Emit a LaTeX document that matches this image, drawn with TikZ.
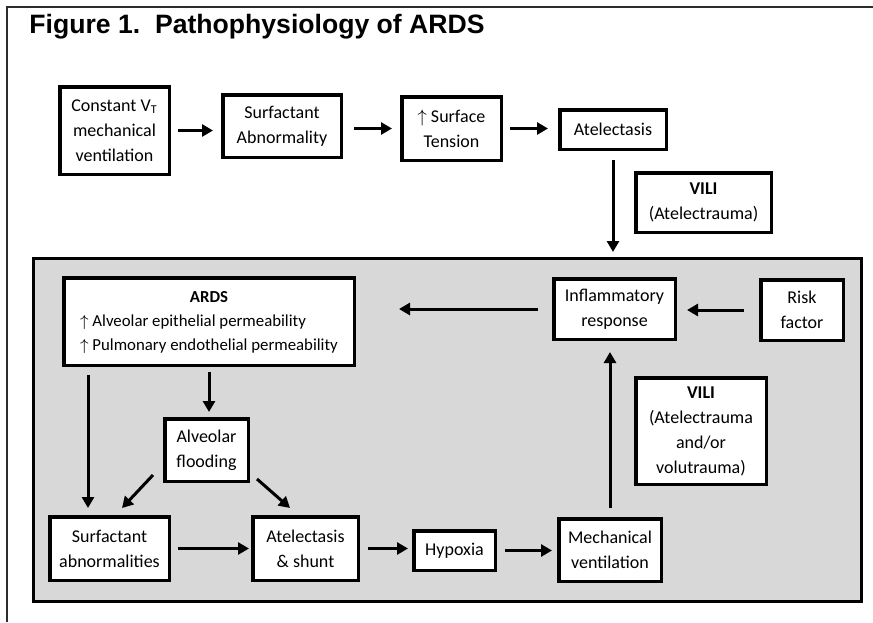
\documentclass[tikz,border=0pt]{standalone}
\usepackage{fontspec}
\setmainfont{Carlito}
\newfontfamily\titlefont{Liberation Sans}
\usetikzlibrary{arrows.meta,calc}
\definecolor{panelgray}{RGB}{216,216,216}
\definecolor{framegray}{RGB}{45,45,45}
\tikzset{
  box/.style={draw, line width=1.75pt, fill=white, align=center, inner sep=1pt,
    font={\fontsize{9pt}{12.5pt}\selectfont}},
  panel/.style={draw, line width=1.5pt, fill=panelgray, inner sep=0pt},
  conn/.style={->, line width=1.5pt, shorten <=3.5pt, shorten >=2.5pt}
}
\begin{document}
\begin{tikzpicture}[x=0.5pt, y=-0.5pt, >={Triangle[length=5.5pt,width=6pt]}]
\useasboundingbox[fill=white] (0,0) rectangle (873,622);
\draw[line width=1pt, framegray] (7,622)--(7,7)--(873,7);
\node[anchor=base west, inner sep=0pt, font={\titlefont\bfseries\fontsize{13.3pt}{15pt}\selectfont}] (title) at (29,33) {Figure 1.\ \ Pathophysiology of ARDS};

\node[panel, minimum width=414pt, minimum height=171.5pt] (cycle) at (447.5,430) {};

\node[box, minimum width=54.75pt, minimum height=43.75pt] (const) at (114.5,130.5) {Constant V\textsubscript{T}\\mechanical\\ventilation};
\node[box, minimum width=59.25pt, minimum height=31.25pt] (surf) at (282,126) {Surfactant\\Abnormality};
\node[box, minimum width=49.75pt, minimum height=31.75pt] (tens) at (451.5,128.5) {$\uparrow$ Surface\\Tension};
\node[box, minimum width=53.25pt, minimum height=19.75pt] (atel) at (613,129.5) {Atelectasis};
\node[box, minimum width=67.75pt, minimum height=29.75pt] (vili1) at (703.5,202.5) {\textbf{VILI}\\(Atelectrauma)};

\node[box, minimum width=145.25pt, minimum height=43.75pt, font={\fontsize{8.4pt}{12pt}\selectfont}] (ards) at (209,321.5)
  {\begin{tabular}{@{}l@{}}\multicolumn{1}{@{}c@{}}{\textbf{ARDS}}\\ $\uparrow$ Alveolar epithelial permeability\\ $\uparrow$ Pulmonary endothelial permeability\end{tabular}};
\node[box, minimum width=60.75pt, minimum height=30.25pt] (infl) at (614.5,309) {Inflammatory\\response};
\node[box, minimum width=41.25pt, minimum height=30.25pt] (risk) at (802,310) {Risk\\factor};
\node[box, minimum width=41.75pt, minimum height=31.25pt] (flood) at (206.5,450) {Alveolar\\flooding};
\node[box, minimum width=65.25pt, minimum height=53.25pt] (vili2) at (701,431) {\textbf{VILI}\\(Atelectrauma\\and/or\\volutrauma)};
\node[box, minimum width=59.75pt, minimum height=31.75pt] (sabn) at (109.5,548.5) {Surfactant\\abnormalities};
\node[box, minimum width=52.75pt, minimum height=31.75pt] (shunt) at (305.5,548.5) {Atelectasis\\\& shunt};
\node[box, minimum width=40.75pt, minimum height=19.75pt] (hyp) at (454.5,550.5) {Hypoxia};
\node[box, minimum width=51.25pt, minimum height=31.25pt] (mech) at (610,550) {Mechanical\\ventilation};

\draw[conn, shorten >=4pt] (const.east)--(const.east -| surf.west);
\draw[conn, shorten <=5.5pt, shorten >=4pt] (tens.west -| surf.east)--(tens.west);
\draw[conn, shorten >=5pt] (tens.east)--(tens.east -| atel.west);
\draw[conn, shorten <=4.5pt] (atel.south)--(atel.south |- cycle.north);

\draw[conn, shorten <=7pt, shorten >=21.5pt] (infl.west)--(infl.west -| ards.east);
\draw[conn, shorten <=7.5pt, shorten >=5pt] (risk.west)--(risk.west -| infl.east);
\draw[conn, shorten <=2.5pt] (ards.south)--(ards.south |- flood.north);
\draw[conn, shorten <=4pt, shorten >=3.5pt] ([xshift=13pt]ards.south west)--([xshift=13pt]ards.south west |- sabn.north);
\draw[conn, shorten <=0pt, shorten >=0pt] ($(flood.south west)+(-10,-8)$)--($(sabn.north)+(12.5,-7)$);
\draw[conn, shorten <=0pt, shorten >=0pt] ($(flood.south east)+(7,-4)$)--($(shunt.north)+(-15.5,-7)$);

\draw[conn, shorten >=1pt] (sabn.east)--(sabn.east -| shunt.west);
\draw[conn, shorten <=4pt, shorten >=2pt] (shunt.east)--(shunt.east -| hyp.west);
\draw[conn, shorten <=4pt] (hyp.east)--(hyp.east -| mech.west);
\draw[conn, shorten <=4.5pt, shorten >=5.5pt] (mech.north)--(mech.north |- infl.south);
\end{tikzpicture}
\end{document}
